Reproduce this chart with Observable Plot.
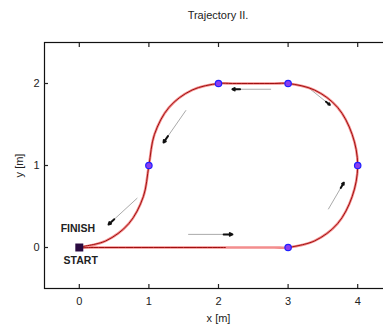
<!DOCTYPE html>
<html>
<head>
<meta charset="utf-8">
<script src="https://cdn.jsdelivr.net/npm/d3@7"></script>
<script src="https://cdn.jsdelivr.net/npm/@observablehq/plot@0.6"></script>
<style>
  html, body { margin: 0; padding: 0; background: #fff; overflow: hidden; }
  #wrap { position: relative; width: 383px; height: 325px; overflow: hidden; }
  #title { position: absolute; left: 0; top: 9px; width: 436px; text-align: center;
           font: 11px "Liberation Sans", Arial, sans-serif; color: #222; }
  #chart { position: absolute; left: 0; top: 0; }
</style>
</head>
<body>
<div id="wrap">
  <div id="chart"></div>
  <div id="title">Trajectory II.</div>
</div>
<script>
// Reference path of the loop: straight run, then arcs around the waypoints
const pathX = [0, 1, 2, 2.8, 3, 3.38, 3.71, 3.92, 4, 3.92, 3.71, 3.38, 3, 2.8, 2.2, 2, 1.62, 1.29, 1.08, 1, 0.92, 0.71, 0.38, 0];
const pathY = [0, 0, 0, 0, 0, 0.08, 0.29, 0.62, 1, 1.38, 1.71, 1.92, 2, 2, 2, 2, 1.92, 1.71, 1.38, 1, 0.62, 0.29, 0.08, 0];

// Driven path (thin dark line), from the first corner back round to the straight
const driveX = [3, 3.38, 3.71, 3.92, 4, 3.92, 3.71, 3.38, 3, 2.8, 2.2, 2, 1.62, 1.29, 1.08, 1, 0.92, 0.71, 0.38, 0, 0.2, 1, 2.1];
const driveY = [0, 0.08, 0.29, 0.62, 1, 1.38, 1.71, 1.92, 2, 2, 2, 2, 1.92, 1.71, 1.38, 1, 0.62, 0.29, 0.08, 0, 0, 0, 0];

// Waypoints
const wpX = [3, 4, 3, 2, 1];
const wpY = [0, 1, 2, 2, 1];

// Direction arrows (tail -> head)
const arrX1 = [1.57, 3.58, 3.32, 2.75, 1.53, 0.83];
const arrY1 = [0.16, 0.47, 1.93, 1.93, 1.67, 0.60];
const arrX2 = [2.20, 3.80, 3.60, 2.20, 1.21, 0.42];
const arrY2 = [0.16, 0.79, 1.74, 1.93, 1.28, 0.28];

// Labels at the start point
const labelText = ["FINISH", "START"];
const labelX = [-0.02, 0.02];
const labelY = [0.23, -0.16];

const xTicks = [0, 1, 2, 3, 4];
const yTicks = [0, 1, 2];

const drive = driveX.map((x, i) => ({x, y: driveY[i]}));
const path = pathX.map((x, i) => ({x, y: pathY[i]}));
const wps = wpX.map((x, i) => ({x, y: wpY[i]}));
const arrows = arrX1.map((x1, i) => ({x1, y1: arrY1[i], x2: arrX2[i], y2: arrY2[i]}));
// Short end piece of each arrow carries the dark head
const heads = arrows.map(a => ({
  x1: a.x1 + 0.8 * (a.x2 - a.x1), y1: a.y1 + 0.8 * (a.y2 - a.y1), x2: a.x2, y2: a.y2
}));
const labels = labelText.map((t, i) => ({t, x: labelX[i], y: labelY[i]}));

const chart = Plot.plot({
  width: 400,
  height: 325,
  marginLeft: 44,
  marginRight: 8,
  marginTop: 42,
  marginBottom: 37,
  style: {fontFamily: "'Liberation Sans', Arial, sans-serif", fontSize: "11px", color: "#222", background: "#fff", maxWidth: "none"},
  x: {domain: [-0.5, 4.5]},
  y: {domain: [-0.5, 2.5]},
  marks: [
    Plot.arrow(arrows, {x1: "x1", y1: "y1", x2: "x2", y2: "y2", stroke: "#aaa", strokeWidth: 1, headLength: 0}),
    Plot.arrow(heads, {x1: "x1", y1: "y1", x2: "x2", y2: "y2", stroke: "#111", strokeWidth: 2, headLength: 8, headAngle: 55}),
    Plot.line(path, {x: "x", y: "y", curve: "catmull-rom", stroke: "#f07070", strokeWidth: 2.6, strokeOpacity: 0.8}),
    Plot.line(drive, {x: "x", y: "y", curve: "catmull-rom", stroke: "#a01010", strokeWidth: 1}),
    Plot.dot(wps, {x: "x", y: "y", r: 3.2, fill: "#8a3df0", stroke: "#2020ff", strokeWidth: 1.2}),
    Plot.dot([{x: pathX[0], y: pathY[0]}], {x: "x", y: "y", symbol: "square", r: 4.5, fill: "#2a0a40"}),
    Plot.text(labels, {x: "x", y: "y", text: "t", fontWeight: "bold", fontSize: 10.5, fill: "#222"}),
    Plot.frame({stroke: "#111", strokeWidth: 1.2}),
    Plot.axisX(xTicks, {anchor: "bottom", tickSize: -4, tickPadding: 13, strokeWidth: 1.2, tickFormat: d3.format("d"), label: "x [m]", labelAnchor: "center", labelOffset: 33, labelArrow: "none"}),
    Plot.axisX(xTicks, {anchor: "top", tickSize: -4, tickFormat: () => "", strokeWidth: 1.2, label: null}),
    Plot.axisY(yTicks, {anchor: "left", tickSize: -4, tickPadding: 9, strokeWidth: 1.2, tickFormat: d3.format("d"), label: "y [m]", labelAnchor: "center", labelOffset: 29, labelArrow: "none"})
  ]
});
document.getElementById("chart").appendChild(chart);
</script>
</body>
</html>
